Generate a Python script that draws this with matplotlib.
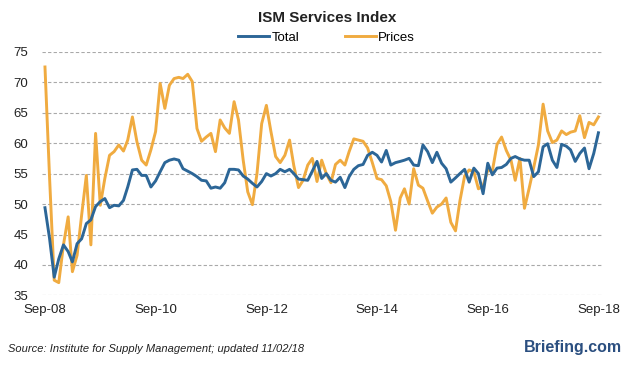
import pandas as pd
import matplotlib.pyplot as plt

plt.rcParams['font.family'] = ['Liberation Sans', 'DejaVu Sans']

# monthly readings, Sep-08 .. Sep-18
months = pd.date_range('2008-09-01', periods=121, freq='MS')

total = [
    49.4, 44.4, 38.0, 41.0, 43.3, 42.2, 40.5, 43.5, 44.3, 46.8, 47.4, 49.6,
    50.4, 50.9, 49.4, 49.8, 49.7, 50.6, 52.8, 55.6, 55.7, 54.7, 54.7, 52.8,
    53.8, 55.3, 56.8, 57.2, 57.4, 57.2, 55.8, 55.4, 55.0, 54.5, 53.9, 53.8,
    52.6, 52.8, 52.6, 53.5, 55.7, 55.7, 55.6, 54.6, 54.1, 53.4, 52.8, 53.7,
    55.0, 54.6, 55.0, 55.7, 55.3, 55.7, 55.0, 54.1, 54.0, 53.9, 55.4, 57.0,
    54.2, 55.0, 53.9, 53.6, 54.4, 52.7, 54.5, 55.7, 56.3, 56.5, 58.0, 58.5,
    58.0, 56.9, 58.8, 56.4, 56.8, 57.0, 57.2, 57.5, 56.4, 56.3, 59.7, 58.6,
    56.8, 58.5, 56.7, 55.8, 53.6, 54.3, 55.0, 55.7, 53.6, 55.9, 55.0, 51.7,
    56.7, 54.8, 55.9, 56.0, 56.5, 57.5, 57.8, 57.4, 57.2, 57.2, 54.5, 55.3,
    59.4, 59.9, 57.2, 56.0, 59.8, 59.5, 58.9, 57.0, 58.3, 59.2, 55.8, 58.3,
    61.7,
]

prices = [
    72.5, 54.5, 37.5, 37.1, 43.3, 47.9, 38.9, 41.6, 48.2, 54.7, 43.3, 61.6,
    49.8, 54.2, 58.0, 58.6, 59.7, 58.7, 60.5, 64.3, 60.2, 57.2, 56.4, 58.9,
    61.9, 69.8, 65.7, 69.5, 70.6, 70.8, 70.6, 71.3, 70.1, 62.4, 60.3, 61.0,
    61.6, 58.6, 63.8, 62.5, 61.6, 66.8, 63.8, 57.2, 52.0, 49.9, 55.0, 63.2,
    66.2, 61.9, 57.8, 56.8, 58.0, 60.5, 56.3, 52.7, 53.9, 56.4, 57.5, 53.7,
    57.2, 55.0, 53.5, 56.5, 57.2, 56.4, 58.6, 60.7, 60.5, 60.3, 59.2, 56.8,
    54.2, 54.0, 53.0, 50.4, 45.7, 51.0, 52.5, 50.0, 55.8, 53.1, 52.6, 50.5,
    48.5, 49.5, 50.0, 51.0, 47.0, 45.6, 50.5, 54.6, 55.6, 55.3, 52.5, 53.0,
    55.6, 55.4, 59.8, 61.0, 58.8, 57.2, 53.9, 57.5, 49.3, 52.6, 56.0, 59.7,
    66.4, 62.0, 60.1, 60.5, 62.0, 61.4, 61.8, 62.0, 64.5, 60.9, 63.4, 63.0,
    64.3,
]

tick_labels = ['Sep-08', 'Sep-10', 'Sep-12', 'Sep-14', 'Sep-16', 'Sep-18']
y_ticks = [35, 40, 45, 50, 55, 60, 65, 70, 75]

fig = plt.figure(figsize=(6.26, 3.67), dpi=100)
ax = fig.add_axes([0.067, 0.195, 0.895, 0.664])

ax.plot(months, total, color='#2c6697', linewidth=2.1, label='Total',
        solid_joinstyle='round', zorder=3)
ax.plot(months, prices, color='#f0ab40', linewidth=2.1, label='Prices',
        solid_joinstyle='round', zorder=2)

ax.set_ylim(35, 75)
ax.set_yticks(y_ticks)
ax.set_xlim(months[0] - pd.Timedelta(days=20), months[-1] + pd.Timedelta(days=25))
ax.set_xticks(months[::24])
ax.set_xticklabels(tick_labels)

ax.grid(axis='y', linestyle=(0, (3, 2)), color='#a9a9a9', linewidth=0.8)
ax.grid(axis='x', visible=False)
for s in ax.spines.values():
    s.set_visible(False)
ax.tick_params(axis='both', length=0, labelsize=9.5, colors='#222222')
ax.tick_params(axis='y', pad=10)
ax.tick_params(axis='x', pad=6)

fig.text(0.522, 0.951, 'ISM Services Index', ha='center', va='center',
         fontsize=11, fontweight='bold', color='#222222')
fig.legend(loc='center', bbox_to_anchor=(0.522, 0.897), ncol=2, frameon=False,
           fontsize=9.5, handlelength=2.3, handletextpad=0.2, columnspacing=3.5)

fig.text(0.013, 0.049, 'Source: Institute for Supply Management; updated 11/02/18',
         ha='left', va='center', fontsize=8, style='italic', color='#222222')
fig.text(0.993, 0.052, 'Briefing.com', ha='right', va='center',
         fontsize=11.5, fontweight='bold', color='#2b4f80')

fig.savefig('out.png', dpi=100)
